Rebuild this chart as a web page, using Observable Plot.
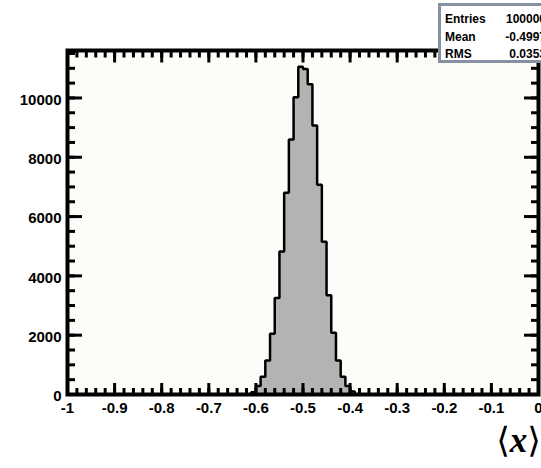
<!DOCTYPE html>
<html>
<head>
<meta charset="utf-8">
<script src="https://cdn.jsdelivr.net/npm/d3@7"></script>
<script src="https://cdn.jsdelivr.net/npm/@observablehq/plot@0.6"></script>
<style>
  html, body { margin: 0; padding: 0; background: #fff; overflow: hidden; }
  #wrap { position: relative; width: 541px; height: 468px; overflow: hidden; }
  #stats { position: absolute; left: 438px; top: 3px; width: 130px; height: 60px;
    border: 3px solid #8592a2; background: #fff; box-sizing: border-box;
    font: bold 12px "Liberation Sans", Arial, sans-serif; color: #000; }
  #stats .row { position: absolute; left: 4px; width: 101px; height: 14px; line-height: 14px; }
  #stats .k { position: absolute; left: 0; }
  #stats .v { position: absolute; right: 0; }
  #xlabel { position: absolute; right: 0px; top: 420px; font: 35px "DejaVu Serif", serif; line-height: 40px; white-space: nowrap; }
  #xlabel i { font-family: "Liberation Serif", serif; font-weight: bold; font-style: italic; }
</style>
</head>
<body>
<div id="wrap"></div>
<script>
// ---- data ----
const binLow = [-0.61, -0.60, -0.59, -0.58, -0.57, -0.56, -0.55, -0.54, -0.53, -0.52, -0.51,
                -0.50, -0.49, -0.48, -0.47, -0.46, -0.45, -0.44, -0.43, -0.42, -0.41, -0.40];
const binCounts = [80, 290, 600, 1150, 2050, 3250, 4820, 6800, 8600, 10020, 11050,
                   10980, 10460, 9070, 7070, 5150, 3350, 2080, 1150, 600, 290, 100];
const binWidth = 0.01;

const xMajorTicks = [-1, -0.9, -0.8, -0.7, -0.6, -0.5, -0.4, -0.3, -0.2, -0.1, 0];
const xTickLabels = ["-1", "-0.9", "-0.8", "-0.7", "-0.6", "-0.5", "-0.4", "-0.3", "-0.2", "-0.1", "0"];
const yMajorTicks = [0, 2000, 4000, 6000, 8000, 10000];
const yTickLabels = ["0", "2000", "4000", "6000", "8000", "10000"];

const statsNames = ["Entries", "Mean", "RMS"];
const statsValues = ["100000", "-0.4997", "0.0353"];
const axisLabelText = ["⟨", "x", "⟩"];

// ---- derived ----
const bins = binLow.map((lo, i) => ({x1: lo, x2: lo + binWidth, count: binCounts[i]}));
const outline = [{x: binLow[0], y: 0}];
bins.forEach(b => { outline.push({x: b.x1, y: b.count}, {x: b.x2, y: b.count}); });
outline.push({x: bins[bins.length - 1].x2, y: 0});

const xMinorTicks = d3.range(-1, 0.0001, 0.02).map(v => +v.toFixed(2));
const yMinorTicks = d3.range(0, 11600, 500);
const xLabelMap = new Map(xMajorTicks.map((v, i) => [v, xTickLabels[i]]));
const yLabelMap = new Map(yMajorTicks.map((v, i) => [v, yTickLabels[i]]));
const blank = () => "";

const tickStyle = {stroke: "black", strokeWidth: 3, label: null, tickFormat: blank};

const chart = Plot.plot({
  width: 541,
  height: 468,
  marginLeft: 67,
  marginRight: 3,
  marginTop: 50,
  marginBottom: 74,
  style: {fontFamily: "'Liberation Sans', Arial, sans-serif", background: "transparent", color: "black"},
  x: {domain: [-1, 0]},
  y: {domain: [0, 11600]},
  marks: [
    Plot.frame({fill: "#fcfcf8", stroke: null}),
    Plot.area(outline, {x1: "x", y1: d => 0, y2: "y", fill: "#b3b3b3", curve: "linear"}),
    Plot.line(outline, {x: "x", y: "y", stroke: "black", strokeWidth: 2.5, strokeLinejoin: "miter"}),
    // x ticks (inward), bottom & top
    Plot.axisX(xMinorTicks, {anchor: "bottom", tickSize: -6, ...tickStyle}),
    Plot.axisX(xMajorTicks, {anchor: "bottom", tickSize: -11, ...tickStyle}),
    Plot.axisX(xMinorTicks, {anchor: "top", tickSize: -6.5, ...tickStyle}),
    Plot.axisX(xMajorTicks, {anchor: "top", tickSize: -11.5, ...tickStyle}),
    // y ticks (inward), left & right
    Plot.axisY(yMinorTicks, {anchor: "left", tickSize: -8, ...tickStyle}),
    Plot.axisY(yMajorTicks, {anchor: "left", tickSize: -15, ...tickStyle}),
    Plot.axisY(yMinorTicks, {anchor: "right", tickSize: -8, ...tickStyle}),
    Plot.axisY(yMajorTicks, {anchor: "right", tickSize: -15, ...tickStyle}),
    // labels
    Plot.axisX(xMajorTicks, {anchor: "bottom", tickSize: 0, tickPadding: 8, label: null,
      tickFormat: d => xLabelMap.get(d), fontSize: 15, fontWeight: "bold"}),
    Plot.axisY(yMajorTicks, {anchor: "left", tickSize: 0, tickPadding: 6, label: null,
      tickFormat: d => yLabelMap.get(d), fontSize: 15, fontWeight: "bold", dy: 2}),
    Plot.frame({stroke: "black", strokeWidth: 4})
  ]
});

const wrap = document.getElementById("wrap");
wrap.appendChild(chart);

// stats box
const stats = document.createElement("div");
stats.id = "stats";
statsNames.forEach((n, i) => {
  const row = document.createElement("div");
  row.className = "row";
  row.style.top = (6 + i * 17.5) + "px";
  row.innerHTML = `<span class="k">${n}</span><span class="v">${statsValues[i]}</span>`;
  stats.appendChild(row);
});
wrap.appendChild(stats);

// axis title
const xl = document.createElement("div");
xl.id = "xlabel";
xl.innerHTML = `${axisLabelText[0]}<i>${axisLabelText[1]}</i>${axisLabelText[2]}`;
wrap.appendChild(xl);
</script>
</body>
</html>
